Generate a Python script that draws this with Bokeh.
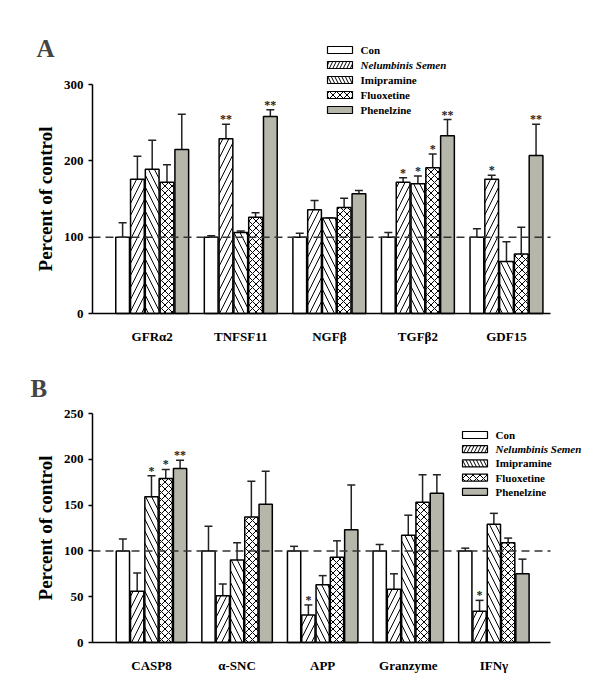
from bokeh.plotting import figure
from bokeh.models import ColumnDataSource, Whisker, TeeHead, Label, FixedTicker, Range1d, LinearAxis
from bokeh.layouts import column
from bokeh.core.properties import value
from bokeh.embed import file_html
from bokeh.resources import INLINE

SERIF = "Liberation Serif"

series = ["Con", "Nelumbinis Semen", "Imipramine", "Fluoxetine", "Phenelzine"]

# ---- Panel A data ----
genes_a = ["GFRα2", "TNFSF11", "NGFβ", "TGFβ2", "GDF15"]
a_con = [100, 100, 100, 100, 100]
a_nel = [176, 229, 136, 172, 176]
a_imi = [189, 106, 125, 170, 68]
a_flu = [172, 126, 139, 191, 78]
a_phe = [215, 258, 157, 233, 207]
a_con_err = [19, 2, 5, 6, 11]
a_nel_err = [30, 19, 12, 6, 5]
a_imi_err = [38, 2, 0, 10, 26]
a_flu_err = [23, 6, 12, 18, 35]
a_phe_err = [46, 9, 4, 21, 41]
a_con_sig = ["", "", "", "", ""]
a_nel_sig = ["", "**", "", "*", "*"]
a_imi_sig = ["", "", "", "*", ""]
a_flu_sig = ["", "", "", "*", ""]
a_phe_sig = ["", "**", "", "**", "**"]

# ---- Panel B data ----
genes_b = ["CASP8", "α-SNC", "APP", "Granzyme", "IFNγ"]
b_con = [100, 100, 100, 100, 100]
b_nel = [56, 51, 30, 58, 34]
b_imi = [159, 90, 63, 117, 129]
b_flu = [179, 137, 93, 153, 109]
b_phe = [190, 151, 123, 163, 75]
b_con_err = [13, 27, 5, 7, 3]
b_nel_err = [20, 13, 11, 17, 12]
b_imi_err = [23, 19, 10, 22, 12]
b_flu_err = [10, 39, 18, 30, 5]
b_phe_err = [9, 36, 49, 20, 16]
b_con_sig = ["", "", "", "", ""]
b_nel_sig = ["", "", "*", "", "*"]
b_imi_sig = ["*", "", "", "", ""]
b_flu_sig = ["*", "", "", "", ""]
b_phe_sig = ["**", "", "", "", ""]

y_ticks_a = [0, 100, 200, 300]
y_ticks_b = [0, 50, 100, 150, 200, 250]
REF_LEVEL = 100

FILLS = ["white", "white", "white", "white", "#b6b6aa"]
HATCH = [None, "/", "\\", "x", None]
HSCALE = [None, 12, 12, 7, None]
STEP = 0.167
BAR_W = 0.155

W = 600
AXIS_LEFT_PX = 92
AXIS_RIGHT_PX = 550


def style_text(sty="bold"):
    return dict(text_font=value(SERIF), text_font_style=sty)


def make_panel(genes, means, errs, sigs, page_top, h, zero_py, top_py, y_top_val, y_ticks,
               xa0, px_per_unit, letter, letter_px, legend_px, legend_dy):
    ys_per_px = y_top_val / (zero_py - top_py)
    xs_per_px = 1.0 / px_per_unit

    def px2x(px):
        return xa0 + (px - AXIS_LEFT_PX) * xs_per_px

    def py2y(py):
        return (zero_py - py) * ys_per_px

    x_start, x_end = px2x(0), px2x(W)
    y_start, y_end = py2y(page_top + h), py2y(page_top)
    xa1 = px2x(AXIS_RIGHT_PX)

    p = figure(width=W, height=h, x_range=Range1d(x_start, x_end), y_range=Range1d(y_start, y_end),
               output_backend="svg", toolbar_location=None, x_axis_type=None, y_axis_type=None,
               min_border_left=0, min_border_right=0, min_border_top=0, min_border_bottom=0)
    p.outline_line_color = None
    p.xgrid.visible = False
    p.ygrid.visible = False

    for i in range(5):
        xs = [g + (i - 2) * STEP for g in range(len(genes))]
        up = [m + e for m, e in zip(means[i], errs[i])]
        src = ColumnDataSource(dict(x=xs, top=means[i], upper=up,
                                    sy=[u + 5 * ys_per_px for u in up], sig=sigs[i]))
        kw = {}
        if HATCH[i]:
            kw = dict(hatch_pattern=HATCH[i], hatch_color="black", hatch_scale=HSCALE[i], hatch_weight=1)
        p.vbar(x="x", top="top", bottom=0, width=BAR_W, source=src, fill_color=FILLS[i],
               line_color="black", line_width=1.5, **kw)
        wh = Whisker(source=src, base="x", lower="top", upper="upper", dimension="height",
                     line_color="#222222", line_width=1.5,
                     upper_head=TeeHead(size=8, line_color="#222222", line_width=1.5),
                     lower_head=None)
        p.add_layout(wh)
        p.text(x="x", y="sy", text="sig", source=src, text_align="center",
               text_baseline="alphabetic", text_font_size="12px", text_color="#222222",
               **style_text())

    # dashed reference line at 100 %
    p.segment(x0=[xa0], y0=[REF_LEVEL], x1=[xa1], y1=[REF_LEVEL], line_color="#333333",
              line_width=1.5, line_dash="8 5")

    # y axis
    yax = LinearAxis(fixed_location=xa0, bounds=(0, y_ticks[-1]), ticker=FixedTicker(ticks=y_ticks))
    yax.minor_tick_line_color = None
    yax.major_tick_in = 0
    yax.major_tick_out = 4
    yax.major_label_standoff = 5
    yax.axis_line_width = 1.5
    yax.major_tick_line_width = 1.5
    yax.major_label_text_font = SERIF
    yax.major_label_text_font_style = "bold"
    yax.major_label_text_font_size = "13px"
    yax.major_label_text_color = "black"
    p.add_layout(yax, "left")

    # x axis
    xax = LinearAxis(fixed_location=0, bounds=(xa0, xa1),
                     ticker=FixedTicker(ticks=list(range(len(genes)))))
    xax.major_label_overrides = {i: g for i, g in enumerate(genes)}
    xax.major_tick_in = 0
    xax.major_tick_out = 0
    xax.minor_tick_line_color = None
    xax.axis_line_width = 1.5
    xax.major_label_standoff = 15
    xax.major_label_text_font = SERIF
    xax.major_label_text_font_style = "bold"
    xax.major_label_text_font_size = "13px"
    xax.major_label_text_color = "black"
    p.add_layout(xax, "below")

    # y axis title
    p.text(x=[px2x(45)], y=[py2y((zero_py + top_py) / 2)], text=["Percent of control"],
           angle=1.5707963, text_align="center", text_baseline="middle",
           text_font_size="19px", text_color="black", **style_text())

    # panel letter
    p.add_layout(Label(x=px2x(letter_px[0]), y=py2y(letter_px[1]), text=letter,
                       text_font=SERIF, text_font_style="bold", text_font_size="25px",
                       text_baseline="middle", text_align="left"))

    # legend
    lx, ly = legend_px
    for i, name in enumerate(series):
        cy = py2y(ly + i * legend_dy)
        kw = {}
        if HATCH[i]:
            kw = dict(hatch_pattern=HATCH[i], hatch_color="black", hatch_scale=7, hatch_weight=1)
        p.rect(x=[px2x(lx + 12.5)], y=[cy], width=25, height=7, width_units="screen",
               height_units="screen", fill_color=FILLS[i], line_color="black", line_width=1.2, **kw)
        p.text(x=[px2x(lx + 33)], y=[cy], text=[name], text_baseline="middle",
               text_align="left", text_font_size="11px", text_color="black",
               **style_text("bold italic" if i == 1 else "bold"))
    return p


pa = make_panel(genes_a,
                [a_con, a_nel, a_imi, a_flu, a_phe],
                [a_con_err, a_nel_err, a_imi_err, a_flu_err, a_phe_err],
                [a_con_sig, a_nel_sig, a_imi_sig, a_flu_sig, a_phe_sig],
                0, 345, 313, 84, 300, y_ticks_a,
                -0.674, 88.57, "A", (36, 48), (327, 49.5), 15)
pb = make_panel(genes_b,
                [b_con, b_nel, b_imi, b_flu, b_phe],
                [b_con_err, b_nel_err, b_imi_err, b_flu_err, b_phe_err],
                [b_con_sig, b_nel_sig, b_imi_sig, b_flu_sig, b_phe_sig],
                345, 345, 642, 413, 250, y_ticks_b,
                -0.689, 85.6, "B", (30, 388), (462, 434.5), 14.2)

layout = column(pa, pb, spacing=0)
open("out.html", "w").write(file_html(layout, INLINE))
